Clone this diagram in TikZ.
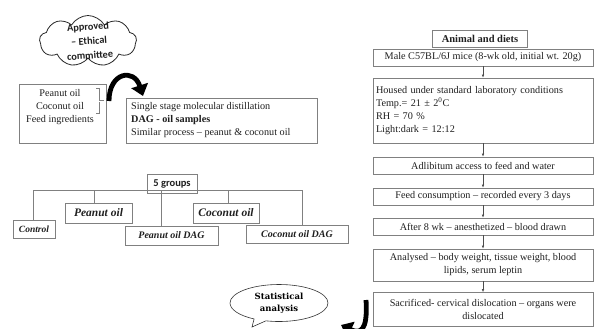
\documentclass[tikz,border=0pt]{standalone}
\usepackage{fontspec}
\setmainfont{Liberation Serif}
\newfontfamily\carl{Carlito}
\newfontfamily\coop{DejaVu Serif}
\usetikzlibrary{shapes.symbols,shapes.callouts,shapes.geometric,arrows.meta}
\definecolor{bord}{gray}{0.5}
\definecolor{txt}{gray}{0.12}
\begin{document}
\begin{tikzpicture}[x=1pt,y=-1pt,
  box/.style={draw=bord, line width=0.7pt, inner sep=0pt, text=txt, font=\fontsize{10.2}{13}\selectfont},
  rbox/.style={box, minimum width=220pt, minimum height=17pt, align=center},
  grp/.style={box, inner sep=0pt},
  plain/.style={text=txt, inner sep=0pt, font=\fontsize{10.2}{13}\selectfont},
  flow/.style={draw=black!70, line width=0.6pt, -{Latex[length=3pt,width=2.6pt]}},
  tree/.style={draw=bord, line width=0.7pt},
  fat/.style={line width=4.8pt, -{Triangle[length=11pt,width=17pt]}}
]
\useasboundingbox (0,0) rectangle (594,329);

% cloud
\node[cloud, cloud puffs=9, cloud puff arc=120, cloud ignores aspect, draw=black!85, line width=0.8pt,
      minimum width=97pt, minimum height=51pt, inner sep=0pt] (cloud) at (88,41) {};
\node[rotate=4, align=center, text=txt, inner sep=0pt,
      font=\carl\bfseries\fontsize{10.3}{14.5}\selectfont] (cloudtxt) at (89,41) {Approved\\– Ethical\\committee};

% source box
\node[box, minimum width=87pt, minimum height=59pt] (src) at (62.5,113.5) {};
\node[plain, align=center, anchor=north] (srctxt) at (60,89) {Peanut oil\\Coconut oil\\Feed ingredients};
\draw[bord, line width=0.5pt] (96,88) -- (99.5,88) -- (99.5,100) -- (104,100);
\draw[bord, line width=0.5pt] (99.5,102) -- (99.5,113) -- (96,113);

% DAG box
\node[box, minimum width=191pt, minimum height=45pt] (dag) at (221.5,120.5) {};
\node[plain, align=left, anchor=north west] (dagtxt) at (131,102)
  {Single stage molecular distillation\\\textbf{DAG - oil samples}\\Similar process – peanut \& coconut oil};

% big curved arrow
\coordinate (fa1) at (109,101);
\coordinate (fa2) at (143,96);
\draw[fat] (fa1) .. controls (109,72) and (134,68) .. (fa2);

% groups
\node[box, font=\carl\bfseries\fontsize{10.5}{12}\selectfont, minimum width=50pt, minimum height=19pt] (g5) at (172,183.5) {5 groups};
\node[grp, font=\fontsize{9.5}{11}\bfseries\itshape\selectfont, minimum width=42pt, minimum height=18pt] (ctrl) at (34,229) {Control};
\node[grp, font=\fontsize{11.5}{13}\bfseries\itshape\selectfont, minimum width=67pt, minimum height=20pt] (po) at (98.5,213) {Peanut oil};
\node[grp, font=\fontsize{10}{12}\bfseries\itshape\selectfont, minimum width=93pt, minimum height=19pt] (podag) at (171.5,235.5) {Peanut oil DAG};
\node[grp, font=\fontsize{11.5}{13}\bfseries\itshape\selectfont, minimum width=66pt, minimum height=20pt] (co) at (226,213) {Coconut oil};
\node[grp, font=\fontsize{10}{12}\bfseries\itshape\selectfont, minimum width=102pt, minimum height=18pt] (codag) at (297,234.5) {Coconut oil DAG};

\coordinate (v1) at (33,190);
\coordinate (v2) at (94,190);
\coordinate (v3) at (161,190);
\coordinate (v4) at (228,190);
\coordinate (v5) at (302,190);
\draw[tree] (v1 |- ctrl.north) -- (v1) -- (v5) -- (v5 |- codag.north);
\draw[tree] (v2) -- (v2 |- po.north);
\draw[tree] (v3) -- (v3 |- podag.north);
\draw[tree] (v4) -- (v4 |- co.north);

% right column
\node[box, font=\fontsize{10.5}{13}\bfseries\selectfont, minimum width=95pt, minimum height=17pt] (anim) at (480,38.5) {Animal and diets};
\node[rbox] (male) at (483,57.5) {Male C57BL/6J mice (8-wk old, initial wt. 20g)};
\node[box, minimum width=220pt, minimum height=65pt, text width=214pt, align=left] (housed) at (483,110.5)
  {Housed under standard laboratory conditions\\Temp.= 21 ± 2\textsuperscript{0}C\\RH = 70 \%\\Light:dark = 12:12};
\node[rbox] (adlib) at (483,165.5) {Adlibitum access to feed and water};
\node[rbox] (feed) at (483,196.5) {Feed consumption – recorded every 3 days};
\node[rbox] (after) at (483,226.5) {After 8 wk – anesthetized – blood drawn};
\node[rbox, minimum height=32pt] (anal) at (483,265)
  {Analysed – body weight, tissue weight, blood\\lipids, serum leptin};
\node[rbox, minimum height=34pt] (sacr) at (483,309.5)
  {Sacrificed- cervical dislocation – organs were\\dislocated};

\draw[flow] (male) -- (housed);
\draw[flow] (housed) -- (adlib);
\draw[flow] (adlib) -- (feed);
\draw[flow] (feed) -- (after);
\draw[flow] (after) -- (anal);
\draw[flow] (anal) -- (sacr);

% statistical analysis bubble
\coordinate (tail) at (252,327);
\node[ellipse callout, draw=black!80, line width=0.6pt, minimum width=98pt, minimum height=37pt,
      callout absolute pointer={(tail)}, inner sep=0pt, align=center, text=black,
      font=\coop\bfseries\fontsize{8.5}{12}\selectfont] (stat) at (279,303) {Statistical\\analysis};

% lower curved arrow
\coordinate (fb1) at (366,300);
\coordinate (fb2) at (341,325);
\begin{scope}
\clip (0,0) rectangle (594,329);
\draw[fat] (fb1) .. controls (368,332) and (360,334) .. (fb2);
\end{scope}
\end{tikzpicture}
\end{document}
